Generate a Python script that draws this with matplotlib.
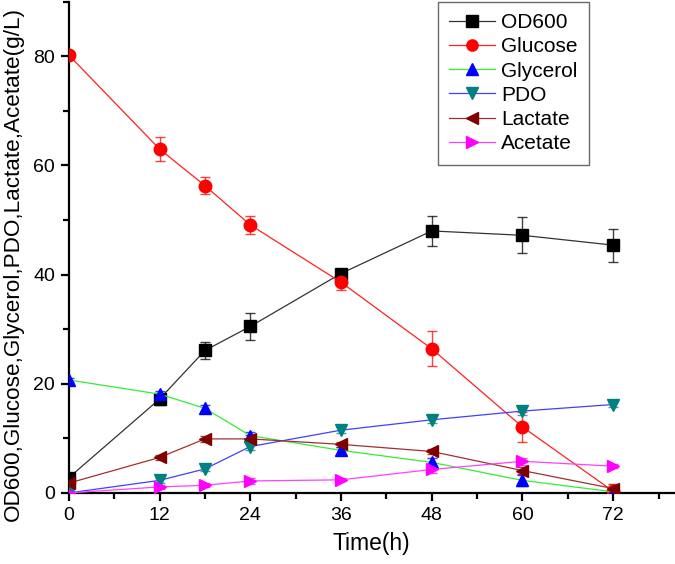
import matplotlib
matplotlib.use("Agg")
import matplotlib.pyplot as plt
from matplotlib.ticker import MultipleLocator

plt.rcParams['font.family'] = ['Liberation Sans', 'DejaVu Sans']

time = [0, 12, 18, 24, 36, 48, 60, 72]
od600 = [2.8, 17.2, 26.1, 30.5, 40.2, 48.0, 47.2, 45.4]
od600_err = [0.5, 1.0, 1.6, 2.5, 0.8, 2.8, 3.3, 3.0]
glucose = [80.2, 63.0, 56.3, 49.1, 38.6, 26.4, 12.1, 0.3]
glucose_err = [0.4, 2.2, 1.6, 1.6, 1.4, 3.2, 2.8, 1.0]
glycerol = [20.7, 18.1, 15.5, 10.5, 7.8, 5.6, 2.3, 0.2]
glycerol_err = [0.3, 0.6, 0.6, 0.7, 0.6, 0.8, 1.0, 0.2]
pdo = [0.0, 2.3, 4.4, 8.5, 11.5, 13.4, 15.0, 16.2]
pdo_err = [0.1, 0.5, 0.4, 0.7, 0.5, 0.5, 0.8, 0.5]
lactate = [1.8, 6.5, 9.9, 9.9, 8.9, 7.6, 4.1, 0.8]
lactate_err = [0.2, 0.4, 0.6, 0.8, 0.5, 0.5, 0.6, 0.8]
acetate = [0.0, 1.1, 1.4, 2.2, 2.4, 4.3, 5.8, 4.9]
acetate_err = [0.1, 0.3, 0.4, 0.5, 0.3, 0.6, 0.6, 0.4]

series = [
    ("OD600", od600, od600_err, "s", "black", "#333333"),
    ("Glucose", glucose, glucose_err, "o", "#ff0000", "#ff2020"),
    ("Glycerol", glycerol, glycerol_err, "^", "#0000ff", "#33ee33"),
    ("PDO", pdo, pdo_err, "v", "#008080", "#4040ff"),
    ("Lactate", lactate, lactate_err, "<", "#800000", "#a03030"),
    ("Acetate", acetate, acetate_err, ">", "#ff00ff", "#ff40ff"),
]

fig = plt.figure(figsize=(6.75, 5.64), dpi=100)
ax = fig.add_axes([0.102, 0.126, 0.896, 0.871])

for name, vals, err, mk, mc, lc in series:
    ax.errorbar(time, vals, yerr=err, fmt='none', ecolor=mc, elinewidth=1.0,
                capsize=3.5, capthick=1.0, alpha=0.75, zorder=2)
    ax.plot(time, vals, color=lc, lw=0.9, marker=mk, markersize=9,
            markerfacecolor=mc, markeredgecolor=mc, label=name, zorder=3)

ax.set_xlim(0, 80)
ax.set_ylim(0, 90)
ax.xaxis.set_major_locator(MultipleLocator(12))
ax.xaxis.set_minor_locator(MultipleLocator(6))
ax.yaxis.set_major_locator(MultipleLocator(20))
ax.yaxis.set_minor_locator(MultipleLocator(10))
ax.spines['top'].set_visible(False)
ax.spines['right'].set_visible(False)
for s in ('left', 'bottom'):
    ax.spines[s].set_linewidth(1.6)
ax.tick_params(which='major', direction='out', length=6, width=1.6, labelsize=14, pad=4)
ax.tick_params(which='minor', direction='out', length=4, width=1.6)

ax.set_xlabel("Time(h)", fontsize=16.5, labelpad=6)
fig.text(0.004, 1 - 264 / 564, "OD600,Glucose,Glycerol,PDO,Lactate,Acetate(g/L)",
         rotation=90, fontsize=16.2, ha='left', va='center')

leg = ax.legend(loc='upper left', bbox_to_anchor=(0.61, 1.0), fontsize=15,
                frameon=True, fancybox=False, edgecolor='#444444',
                handlelength=2.2, borderpad=0.55, labelspacing=0.25, handletextpad=0.3,
                borderaxespad=0.0, markerscale=0.9)
leg.get_frame().set_linewidth(1.0)

fig.savefig("out.png", dpi=100)
